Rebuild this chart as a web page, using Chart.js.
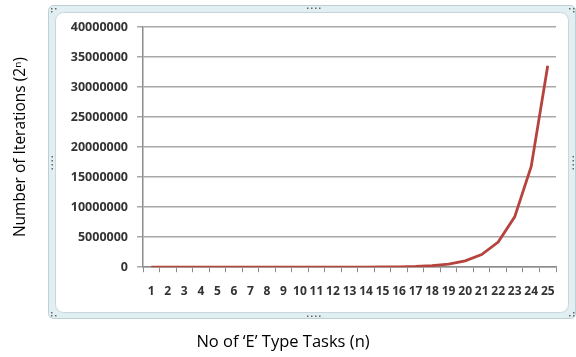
<!DOCTYPE html>
<html>
<head>
<meta charset="utf-8">
<script src="https://cdn.jsdelivr.net/npm/chart.js@4.4.0/dist/chart.umd.min.js"></script>
<style>
  body { margin: 0; background: #fff; }
  #wrap { width: 576px; height: 357px; }
</style>
</head>
<body>
<div id="wrap"><canvas id="chart" width="576" height="357"></canvas></div>
<script>
// ---------------- data ----------------
const tasks = ['1','2','3','4','5','6','7','8','9','10','11','12','13','14','15','16','17','18','19','20','21','22','23','24','25'];
const iterations = [2, 4, 8, 16, 32, 64, 128, 256, 512, 1024, 2048, 4096, 8192, 16384, 32768,
                    65536, 131072, 262144, 524288, 1048576, 2097152, 4194304, 8388608, 16777216, 33554432];
const yMax = 40000000;
const yStep = 5000000;

// excel style chart frame with the little handle dots
const framePlugin = {
  id: 'frame',
  beforeDraw(chart) {
    const c = chart.ctx;
    c.save();
    c.fillStyle = '#e2eff2';
    c.strokeStyle = '#bcd0d5';
    c.lineWidth = 1;
    c.beginPath();
    c.roundRect(48.5, 5.5, 527, 313, 5);
    c.fill();
    c.stroke();
    c.fillStyle = '#ffffff';
    c.strokeStyle = '#c8d7db';
    c.beginPath();
    c.roundRect(55.5, 12.5, 513, 300, 8);
    c.fill();
    c.stroke();

    c.fillStyle = '#666';
    const dot = (x, y) => c.fillRect(x, y, 1.5, 1.5);
    for (let i = 0; i < 4; i++) {
      dot(307 + i * 4, 7.5);
      dot(307 + i * 4, 315.5);
      dot(51.5, 156 + i * 4);
      dot(572.5, 156 + i * 4);
    }
    // corners
    [[51, 8], [55, 8], [51, 11]].forEach(p => dot(p[0], p[1]));
    [[569, 8], [573, 8], [573, 11]].forEach(p => dot(p[0], p[1]));
    [[51, 315], [55, 315], [51, 312]].forEach(p => dot(p[0], p[1]));
    [[569, 315], [573, 315], [573, 312]].forEach(p => dot(p[0], p[1]));
    c.restore();
  }
};

const ctx = document.getElementById('chart').getContext('2d');

new Chart(ctx, {
  type: 'line',
  data: {
    labels: tasks,
    datasets: [{
      label: 'Iterations',
      data: iterations,
      borderColor: '#b5443f',
      borderWidth: 2.8,
      pointRadius: 0,
      tension: 0,
      fill: false
    }]
  },
  options: {
    responsive: false,
    animation: false,
    layout: { padding: { left: 10, right: 20, top: 27, bottom: 0 } },
    plugins: {
      legend: { display: false },
      tooltip: { enabled: false },
      title: {
        display: true,
        position: 'bottom',
        text: 'No of \u2018E\u2019 Type Tasks (n)',
        color: '#000',
        font: { family: 'Open Sans', size: 16.5, weight: 'normal' },
        padding: { top: 15, bottom: 5 }
      }
    },
    scales: {
      x: {
        offset: true,
        afterFit: s => { s.height = 50; },
        grid: { offset: true, drawOnChartArea: false, tickLength: 5, color: '#8c8c8c', lineWidth: 1 },
        border: { color: '#8c8c8c', width: 1.5 },
        ticks: {
          autoSkip: false, maxRotation: 0, minRotation: 0, padding: 12,
          color: '#333',
          font: { family: 'Open Sans', size: 12, weight: 'bold' }
        }
      },
      y: {
        min: 0,
        max: yMax,
        afterFit: s => { s.width = 133; },
        grid: { color: '#a8a8a8', lineWidth: 1.5, tickLength: 6 },
        border: { color: '#8c8c8c', width: 1.5 },
        ticks: {
          stepSize: yStep,
          padding: 9,
          color: '#333',
          font: { family: 'Open Sans', size: 12.5, weight: 'bold' },
          callback: v => String(v)
        },
        title: {
          display: true,
          text: 'Number of Iterations (2\u207F)',
          color: '#000',
          font: { family: 'Open Sans', size: 15.5, weight: 'normal' },
          padding: { top: 1, bottom: 0 }
        }
      }
    }
  },
  plugins: [framePlugin]
});
</script>
</body>
</html>
